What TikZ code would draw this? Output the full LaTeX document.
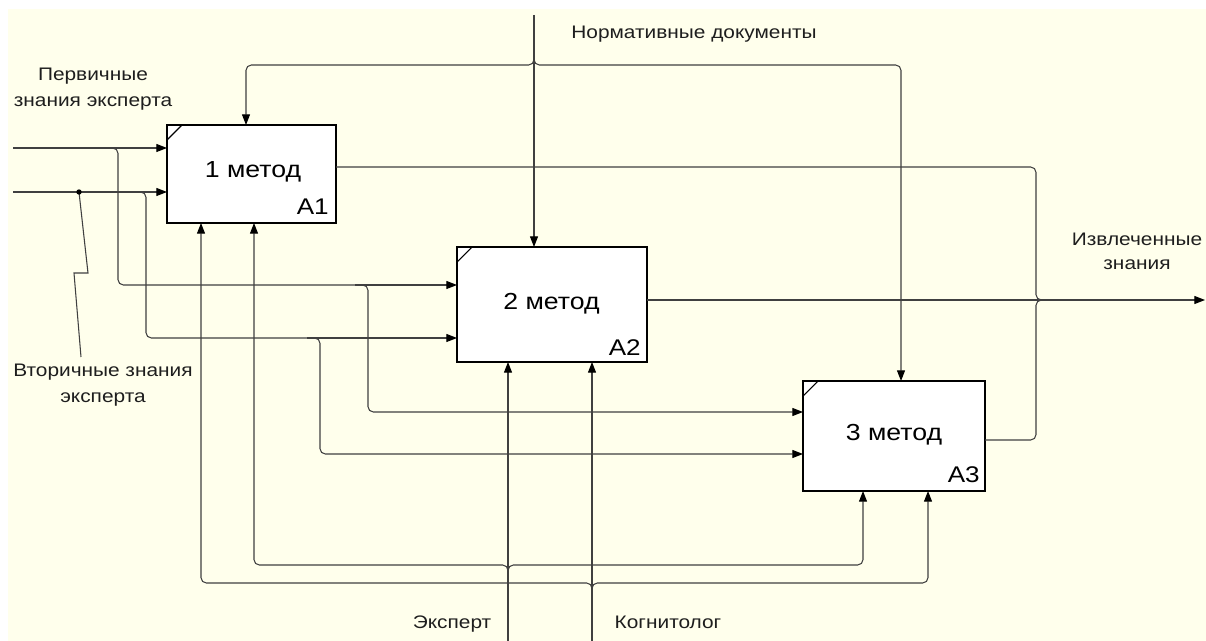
\documentclass[tikz,border=0pt]{standalone}
\usepackage{fontspec}
\setmainfont{Liberation Sans}[FakeStretch=1.15]
\usetikzlibrary{arrows.meta,calc}
\definecolor{bgy}{RGB}{255,255,236}
\definecolor{ln}{RGB}{64,64,64}
\definecolor{txt}{RGB}{30,30,30}
\begin{document}
\begin{tikzpicture}[x=0.75pt,y=-0.75pt,
  flow/.style={draw=ln, line width=0.8pt, rounded corners=4pt},
  arr/.style={flow, -{Triangle[length=8pt,width=6pt,color=black]}},
  fbox/.style={draw=black, line width=1.1pt, fill=white, inner sep=0pt, outer sep=0pt},
  corner/.style={draw=black, line width=0.8pt},
  lbl/.style={text=txt, inner sep=0pt, font=\fontsize{13.6}{18}\selectfont},
  mlbl/.style={text=black, inner sep=0pt, font=\fontsize{17.4}{20}\selectfont},
  idlbl/.style={text=black, inner sep=0pt, font=\fontsize{17}{18}\selectfont}]
\useasboundingbox (0,0) rectangle (1206,641);
\fill[white] (0,0) rectangle (1206,641);
\fill[bgy] (8,9) rectangle (1206,641);

% boxes
\node[fbox, minimum width=126.75pt, minimum height=73.5pt] (A1) at (251.5,174) {};
\node[fbox, minimum width=142.5pt, minimum height=86.25pt] (A2) at (552,304.5) {};
\node[fbox, minimum width=136.5pt, minimum height=82.5pt] (A3) at (894,436) {};
\foreach \b in {A1,A2,A3}{
  \draw[corner] ($(\b.north west)+(0,15)$) -- ($(\b.north west)+(15,0)$);
}
\node[mlbl, anchor=base] (t1) at (253,178) {1 метод};
\node[mlbl, anchor=base] (t2) at (551.5,310) {2 метод};
\node[mlbl, anchor=base] (t3) at (894,440) {3 метод};
\node[idlbl, anchor=base east] (n1) at (329,215) {A1};
\node[idlbl, anchor=base east] (n2) at (641,356) {A2};
\node[idlbl, anchor=base east] (n3) at (980,482) {A3};

% inputs
\coordinate (i1) at (13,148);
\coordinate (i2) at (13,192);
\coordinate (b1) at (105,148);
\coordinate (b2) at (133,192);
\coordinate (b3) at (355,285);
\coordinate (b4) at (307,338);
\coordinate (j1) at (118,285);
\coordinate (j2) at (368,412);
\coordinate (j3) at (146,338);
\coordinate (j4) at (320,454);
\draw[arr] (i1) -- (i1 -| A1.west);
\draw[arr] (i2) -- (i2 -| A1.west);
\draw[flow] (b1) -| (j1) -- (b3);
\draw[arr] (b3) -- (b3 -| A2.west);
\draw[flow] (b2) -| (j3) -- (b4);
\draw[arr] (b4) -- (b4 -| A2.west);
\draw[arr] (b3) -| (j2) -- (j2 -| A3.west);
\draw[arr] (b4) -| (j4) -- (j4 -| A3.west);

% squiggle to secondary knowledge label
\coordinate (dot) at (79,192);
\coordinate (sq1) at (88,273);
\coordinate (sq2) at (74,273);
\coordinate (sq3) at (81,357);
\draw[flow, rounded corners=0pt] (dot) -- (sq1) -- (sq2) -- (sq3);
\fill[black] (dot) circle[radius=2pt];

% controls
\coordinate (c0) at (534,15);
\coordinate (cb) at (534,55);
\coordinate (cl) at (246,65);
\coordinate (cr) at (901,65);
\draw[arr] (c0) -- (c0 |- A2.north);
\draw[arr] (cb) |- (cl) -- (cl |- A1.north);
\draw[arr] (cb) |- (cr) -- (cr |- A3.north);

% mechanisms
\coordinate (m1) at (508,641);
\coordinate (m2) at (592,641);
\coordinate (m1b) at (508,575);
\coordinate (m1l) at (254,565);
\coordinate (m1r) at (863,565);
\coordinate (m2b) at (592,593);
\coordinate (m2l) at (201,583);
\coordinate (m2r) at (928,583);
\draw[arr] (m1) -- (m1 |- A2.south);
\draw[arr] (m2) -- (m2 |- A2.south);
\draw[arr] (m1b) |- (m1l) -- (m1l |- A1.south);
\draw[arr] (m1b) |- (m1r) -- (m1r |- A3.south);
\draw[arr] (m2b) |- (m2l) -- (m2l |- A1.south);
\draw[arr] (m2b) |- (m2r) -- (m2r |- A3.south);

% outputs
\coordinate (o1) at (336,167);
\coordinate (o3) at (985,440);
\coordinate (oj) at (1036,300);
\coordinate (om) at (1050,300);
\coordinate (oe) at (1205,300);
\draw[arr] (A2.east |- oe) -- (oe);
\draw[flow] (o1) -| (oj) -- (om);
\draw[flow] (o3) -| (oj) -- (om);

% labels
\node[lbl, anchor=base] (tnd) at (694,39) {Нормативные документы};
\node[lbl, align=center, font=\fontsize{13.6}{20}\selectfont] (tpz) at (93,89) {Первичные\\знания эксперта};
\node[lbl, align=center, font=\fontsize{13.6}{19.5}\selectfont] (tvz) at (103,385) {Вторичные знания\\эксперта};
\node[lbl, align=center, font=\fontsize{13.6}{18}\selectfont] (tiz) at (1137,251) {Извлеченные\\знания};
\node[lbl, anchor=base] (tex) at (452,628) {Эксперт};
\node[lbl, anchor=base] (tkg) at (668,628) {Когнитолог};
\end{tikzpicture}
\end{document}
